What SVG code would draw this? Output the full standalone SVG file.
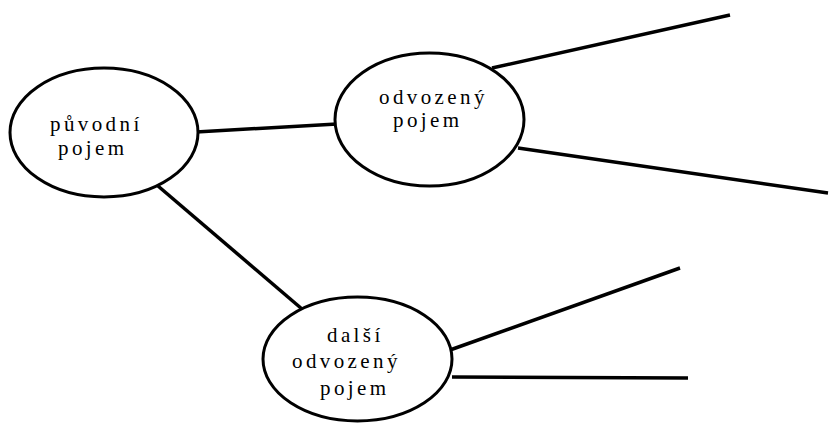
<svg xmlns="http://www.w3.org/2000/svg" width="832" height="423" viewBox="0 0 832 423">
<style>
.node ellipse{fill:#fff;stroke:#000;stroke-width:3}
.node text{font-family:"Liberation Serif","DejaVu Serif","Times New Roman",serif;font-size:21px;letter-spacing:3.4px;fill:#000}
.conn line{stroke:#000;stroke-width:3.5}
</style>
<rect width="832" height="423" fill="#fff"/>
<g id="connectors" class="conn">
<line x1="196" y1="132" x2="337" y2="124"/>
<line x1="158" y1="186" x2="302" y2="309"/>
<line x1="492" y1="68" x2="730" y2="15"/>
<line x1="518" y1="148" x2="828" y2="193"/>
<line x1="450" y1="350" x2="680" y2="268"/>
<line x1="452" y1="377" x2="688" y2="378"/>
</g>
<g id="node-puvodni" class="node">
<ellipse cx="104" cy="132.5" rx="94" ry="64.5"/>
<text x="50" y="131">původní</text>
<text x="58" y="155">pojem</text>
</g>
<g id="node-odvozeny" class="node">
<ellipse cx="429.5" cy="119.5" rx="94.5" ry="66.5"/>
<text x="379" y="104">odvozený</text>
<text x="393" y="127">pojem</text>
</g>
<g id="node-dalsi" class="node">
<ellipse cx="357.5" cy="359" rx="94.5" ry="62"/>
<text x="327" y="342">další</text>
<text x="292" y="368">odvozený</text>
<text x="320" y="395">pojem</text>
</g>
</svg>
